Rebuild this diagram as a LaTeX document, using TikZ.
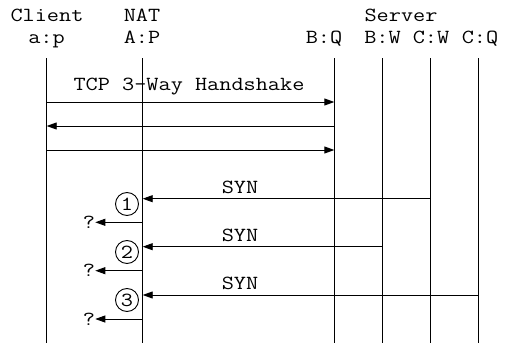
\documentclass[tikz,border=0pt]{standalone}
\usepackage{fontspec}
\setmonofont[FakeStretch=1.18]{Latin Modern Mono}
\usetikzlibrary{arrows.meta}
\begin{document}
\begin{tikzpicture}[x=1pt,y=-1pt,
  lbl/.style={font=\ttfamily\fontsize{20}{20}\selectfont, inner sep=0pt, anchor=base},
  lane/.style={line width=0.9pt},
  msg/.style={line width=0.9pt,-{Triangle[length=10pt,width=7pt]}},
  numc/.style={circle,draw,line width=0.9pt,minimum size=23pt,inner sep=0pt,font=\ttfamily\fontsize{20}{20}\selectfont}]
\useasboundingbox (0,0) rectangle (507,343);
% header labels
\node[lbl] (client) at (47,21) {Client};
\node[lbl] (nat) at (142,21) {NAT};
\node[lbl] (server) at (401,21) {Server};
\node[lbl] (lap) at (46.5,43) {a:p};
\node[lbl] (lAP) at (142,43) {A:P};
\node[lbl] (lBQ) at (324,43) {B:Q};
\node[lbl] (lBW) at (382.5,43) {B:W};
\node[lbl] (lCW) at (431,43) {C:W};
\node[lbl] (lCQ) at (480,43) {C:Q};
% lanes
\foreach \n/\x in {a/46.7,A/142.7,BQ/334.3,BW/382.3,CW/430,CQ/478.3}{
  \coordinate (\n t) at (\x,58);
  \coordinate (\n b) at (\x,343);
  \draw[lane] (\n t) -- (\n b);
}
% handshake
\coordinate (h1a) at (46.7,102); \coordinate (h1b) at (334.3,102);
\coordinate (h2a) at (46.7,126); \coordinate (h2b) at (334.3,126);
\coordinate (h3a) at (46.7,150); \coordinate (h3b) at (334.3,150);
\draw[msg] (h1a) -- (h1b);
\draw[msg] (h2b) -- (h2a);
\draw[msg] (h3a) -- (h3b);
\node[lbl] (tcp) at (189,90) {TCP 3-Way Handshake};
% SYNs
\coordinate (s1a) at (142.7,198.7); \coordinate (s1b) at (430,198.7);
\coordinate (s2a) at (142.7,246.7); \coordinate (s2b) at (382.3,246.7);
\coordinate (s3a) at (142.7,295); \coordinate (s3b) at (478.3,295);
\draw[msg] (s1b) -- (s1a);
\draw[msg] (s2b) -- (s2a);
\draw[msg] (s3b) -- (s3a);
\node[lbl] (syn1) at (240,193) {SYN};
\node[lbl] (syn2) at (240,241.5) {SYN};
\node[lbl] (syn3) at (240,289.5) {SYN};
% circled numbers
\node[numc] (c1) at (127,204) {1};
\node[numc] (c2) at (127,252) {2};
\node[numc] (c3) at (127,300) {3};
% ? arrows
\node[lbl,anchor=center] (q1) at (89,222.5) {?};
\node[lbl,anchor=center] (q2) at (89,270.7) {?};
\node[lbl,anchor=center] (q3) at (89,319) {?};
\coordinate (q1a) at (142.7,222.3);
\coordinate (q2a) at (142.7,270.7);
\coordinate (q3a) at (142.7,319);
\draw[msg] (q1a) -- (q1.east |- q1a);
\draw[msg] (q2a) -- (q2.east |- q2a);
\draw[msg] (q3a) -- (q3.east |- q3a);
\end{tikzpicture}
\end{document}
